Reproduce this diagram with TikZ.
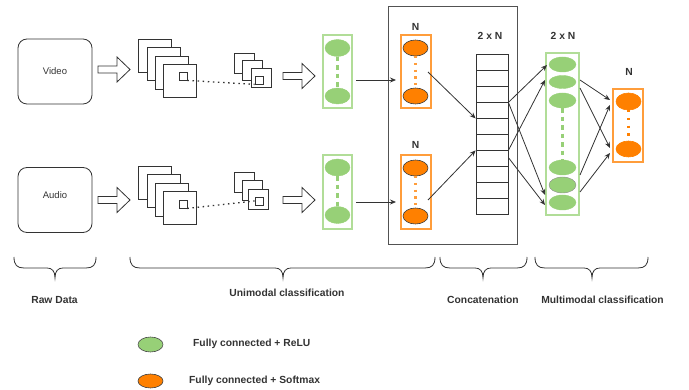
\documentclass[tikz,border=0pt]{standalone}
\usepackage{fontspec}
\setmainfont{Liberation Sans}
\usetikzlibrary{arrows.meta,calc,shapes.geometric}

\definecolor{fcgreen}{HTML}{97D077}
\definecolor{boxgreen}{HTML}{B1DD98}
\definecolor{fcorange}{HTML}{FF8000}
\definecolor{boxorange}{HTML}{FF9D3B}
\definecolor{ink}{HTML}{333333}

% curly brace opening downwards: left end, tip, right end
\newcommand{\drawcurly}[3]{%
  \draw[bracestyle] (#1,257) .. controls (#1,265) and (#1+3,268) .. (#1+10,268)
    -- (#2-8,268) .. controls (#2-3,268) and (#2,271) .. (#2,278)
    .. controls (#2,271) and (#2+3,268) .. (#2+8,268)
    -- (#3-10,268) .. controls (#3-3,268) and (#3,265) .. (#3,257);}

\begin{document}
\begin{tikzpicture}[x=1pt,y=-1pt,
  lbl/.style={font=\fontsize{10.3}{12}\selectfont\bfseries, text=ink, inner sep=0pt},
  src/.style={draw=ink, line width=0.8pt, rounded corners=9pt, minimum width=74pt,
    minimum height=65pt, font=\fontsize{9.5}{11}\selectfont, text=ink, inner sep=0pt},
  frame/.style={draw=ink, fill=white, line width=0.8pt, inner sep=0pt},
  blockarrow/.style={draw=ink, fill=white, line width=0.8pt, line join=miter},
  gbox/.style={draw=boxgreen, line width=1.6pt, inner sep=0pt},
  obox/.style={draw=boxorange, line width=1.6pt, inner sep=0pt},
  gell/.style={ellipse, fill=fcgreen, draw=fcgreen, line width=0.4pt, inner sep=0pt},
  oell/.style={ellipse, fill=fcorange, draw=black!75, line width=0.6pt, inner sep=0pt},
  gdash/.style={draw=fcgreen, line width=2.4pt, dash pattern=on 4.5pt off 4pt},
  odots/.style={draw=boxorange, line width=2.2pt, dash pattern=on 2.2pt off 4.5pt},
  link/.style={draw=ink, line width=0.8pt, -{Stealth[length=6pt,width=5pt]}},
  cell/.style={draw=ink, line width=0.8pt, minimum width=32pt, minimum height=16pt, inner sep=0pt},
  bracestyle/.style={draw=ink, line width=0.8pt},
]
\useasboundingbox (0,0) rectangle (689,390);

% ---------------- raw inputs ----------------
\node[src] (video) at (55,71.5) {Video};
\node[src] (audio) at (55,200) {};
\node[font=\fontsize{9.5}{11}\selectfont, text=ink, inner sep=0pt] (audiotxt) at (55,195) {Audio};

% hollow block arrows
\newcommand{\blockarr}[2]{%
  \draw[blockarrow] (#1,#2-3.5) -- (#1+19,#2-3.5) -- (#1+19,#2-12.5) -- (#1+32,#2)
    -- (#1+19,#2+12.5) -- (#1+19,#2+3.5) -- (#1,#2+3.5) -- cycle;}
\blockarr{98}{69.5}
\blockarr{98}{200}
\blockarr{283}{76}
\blockarr{283}{200}

% ---------------- convolution stacks, video ----------------
\node[frame, minimum size=33pt] (vb1) at (154.5,55.5) {};
\node[frame, minimum size=33pt] (vb2) at (163.5,63.5) {};
\node[frame, minimum size=33pt] (vb3) at (171.5,72.5) {};
\node[frame, minimum size=33pt] (vb4) at (179.5,80.5) {};
\node[frame, minimum size=8pt] (vbin) at (183,76) {};
\node[frame, minimum size=19.5pt] (vs1) at (244.5,63.5) {};
\node[frame, minimum size=19.5pt] (vs2) at (252.5,70.5) {};
\node[frame, minimum size=19.5pt] (vs3) at (261.5,78) {};
\node[frame, minimum size=8pt] (vsin) at (259,80) {};
\draw[ink, line width=1.3pt, dash pattern=on 1.5pt off 3.6pt] (vbin.south east) -- (vsin.south west);

% ---------------- convolution stacks, audio ----------------
\node[frame, minimum size=33pt] (ab1) at (154.5,182.5) {};
\node[frame, minimum size=33pt] (ab2) at (163.5,190.5) {};
\node[frame, minimum size=33pt] (ab3) at (171.5,199.5) {};
\node[frame, minimum size=33pt] (ab4) at (179.5,207.5) {};
\node[frame, minimum size=8pt] (abin) at (183,204) {};
\node[frame, minimum size=19.5pt] (as1) at (244.5,182.5) {};
\node[frame, minimum size=19.5pt] (as2) at (252.5,190.5) {};
\node[frame, minimum size=20pt] (as3) at (258,199) {};
\node[frame, minimum size=8pt] (asin) at (259,201) {};
\draw[ink, line width=1.3pt, dash pattern=on 1.5pt off 3.6pt] (abin.south east) -- (asin.west);

% ---------------- unimodal fully connected layers ----------------
\node[gbox, minimum width=29pt, minimum height=73pt] (vg) at (337.5,71.5) {};
\node[gell, minimum width=25pt, minimum height=17pt] (vg1) at (337.5,48) {};
\node[gell, minimum width=25pt, minimum height=16pt] (vg2) at (337.5,96) {};
\draw[gdash] (vg1.south) -- (vg2.north);

\node[gbox, minimum width=29pt, minimum height=74pt] (ag) at (337.5,192) {};
\node[gell, minimum width=25pt, minimum height=17pt] (ag1) at (337.5,167.5) {};
\node[gell, minimum width=25pt, minimum height=17pt] (ag2) at (337.5,215) {};
\draw[gdash] (ag1.south) -- (ag2.north);

% ---------------- unimodal softmax layers ----------------
\node[draw=ink!85, line width=0.8pt, minimum width=129pt, minimum height=238pt, inner sep=0pt] (fusion) at (452.5,125) {};

\node[lbl] (vn) at (415.5,27) {N};
\node[obox, minimum width=30pt, minimum height=73pt] (vo) at (416,71.5) {};
\node[oell, minimum width=25pt, minimum height=16pt] (vo1) at (415.5,48) {};
\node[oell, minimum width=25pt, minimum height=16pt] (vo2) at (415.5,96) {};
\draw[odots] (vo1.south) -- (vo2.north);

\node[lbl] (an) at (415.5,145) {N};
\node[obox, minimum width=30pt, minimum height=74pt] (ao) at (416,192) {};
\node[oell, minimum width=25pt, minimum height=16pt] (ao1) at (415.5,168) {};
\node[oell, minimum width=25pt, minimum height=16pt] (ao2) at (415.5,216) {};
\draw[odots] (ao1.south) -- (ao2.north);

\coordinate (vgout) at (356,80);
\coordinate (voin) at (396,80);
\coordinate (agout) at (356,202);
\coordinate (aoin) at (396,202);
\draw[link] (vgout) -- (voin);
\draw[link] (agout) -- (aoin);

% ---------------- concatenation vector ----------------
\node[lbl] (cn) at (490,36) {2 x N};
\foreach \i in {1,...,10}{
  \node[cell] (c\i) at (492,{46+16*\i}) {};
}
\coordinate (voout) at (428,72);
\coordinate (aoout) at (428,200);
\draw[link] (voout) -- (c4.south west);
\draw[link] (aoout) -- (c6.south west);

% ---------------- multimodal fully connected layer ----------------
\node[lbl] (mn) at (563,36) {2 x N};
\node[gbox, minimum width=33pt, minimum height=162pt] (mg) at (562.5,134) {};
\node[gell, minimum width=27pt, minimum height=15pt] (m1) at (562.5,64.5) {};
\node[gell, minimum width=27pt, minimum height=13pt] (m2) at (562.5,82) {};
\node[gell, minimum width=27pt, minimum height=15pt] (m3) at (562.5,100.5) {};
\node[gell, minimum width=27pt, minimum height=15pt] (m4) at (562.5,167.5) {};
\node[gell, minimum width=27pt, minimum height=16pt, draw=black!45] (m5) at (562.5,185) {};
\node[gell, minimum width=27pt, minimum height=15pt] (m6) at (562.5,202.5) {};
\draw[gdash] (m3.south) -- (m4.north);

\coordinate (min1) at (547,65);
\coordinate (min2) at (545,80);
\coordinate (min3) at (545,195);
\coordinate (min4) at (545,205);
\coordinate (cout2) at ($(c7.north east)+(0,8)$);
\draw[link] (c3.south east) -- (min1);
\draw[link] (c3.south east) -- (min3);
\draw[link] (c6.south east) -- (min2);
\draw[link] (cout2) -- (min4);

% ---------------- multimodal softmax layer ----------------
\node[lbl] (on) at (629,72) {N};
\node[obox, minimum width=30pt, minimum height=73pt] (oo) at (628,125.5) {};
\node[oell, minimum width=25pt, minimum height=17pt, draw=fcorange] (o1) at (628.5,101.5) {};
\node[oell, minimum width=25pt, minimum height=16pt, draw=fcorange] (o2) at (628.5,149) {};
\draw[draw=fcorange, line width=2.2pt, dash pattern=on 2.2pt off 5.5pt] (o1.south) -- (o2.north);

\coordinate (mout1) at (580,80);
\coordinate (mout2) at (580,88);
\coordinate (mout3) at (580,175);
\coordinate (mout4) at (580,192);
\coordinate (oin1) at (610,100);
\coordinate (oin2) at (610,148);
\coordinate (oin3) at (610,105);
\coordinate (oin4) at (610,153);
\draw[link] (mout1) -- (oin1);
\draw[link] (mout2) -- (oin2);
\draw[link] (mout3) -- (oin3);
\draw[link] (mout4) -- (oin4);

% ---------------- stage braces and captions ----------------
\drawcurly{14}{55}{96}
\drawcurly{130}{283}{435}
\drawcurly{440}{483}{527}
\drawcurly{535}{592}{648}
\node[lbl] (t1) at (54.5,300) {Raw Data};
\node[lbl] (t2) at (287,293) {Unimodal classification};
\node[lbl] (t3) at (483,300) {Concatenation};
\node[lbl] (t4) at (602.5,300) {Multimodal classification};

% ---------------- legend ----------------
\node[gell, draw=black!70, line width=0.6pt, minimum width=25pt, minimum height=15pt] (lg) at (150.5,344.5) {};
\node[oell, minimum width=25pt, minimum height=14pt] (lo) at (150.5,381) {};
\node[lbl, anchor=west] (lgt) at (193,344) {Fully connected + ReLU};
\node[lbl, anchor=west] (lot) at (189,381) {Fully connected + Softmax};
\end{tikzpicture}
\end{document}
